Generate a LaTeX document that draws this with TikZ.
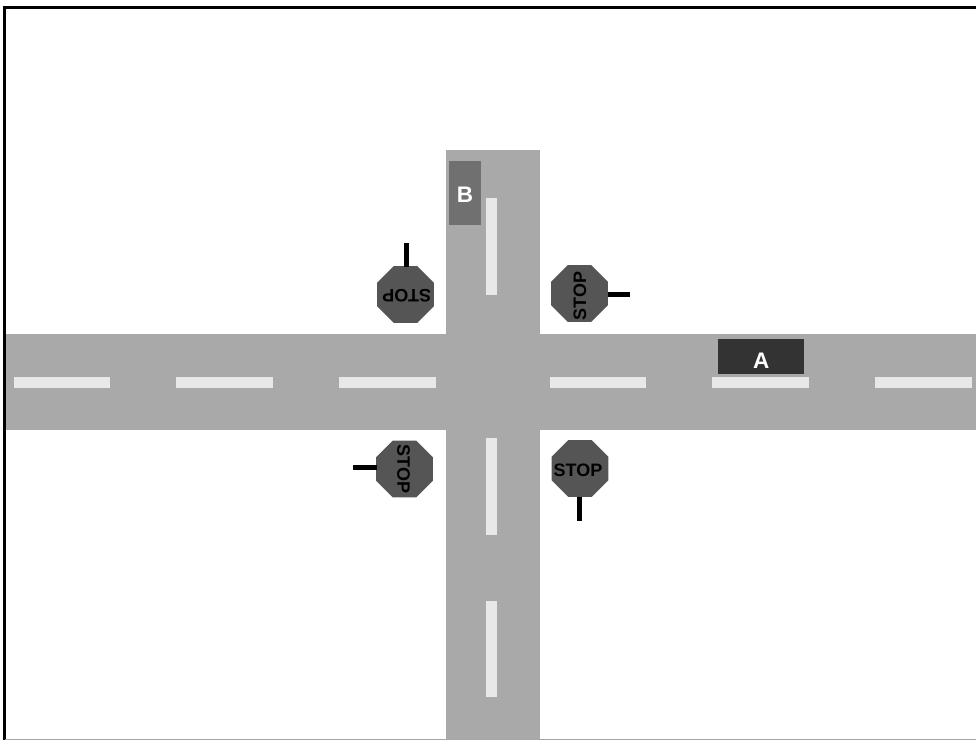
\documentclass[tikz,border=0pt]{standalone}
\usepackage{fontspec}
\setmainfont{Liberation Sans}
\usetikzlibrary{shapes.geometric}
\definecolor{roadc}{HTML}{A9A9A9}
\definecolor{dashc}{HTML}{E8E8E8}
\definecolor{signc}{HTML}{555555}
\definecolor{cara}{HTML}{333333}
\definecolor{carb}{HTML}{707070}
\tikzset{
 road/.style={fill=roadc,draw=none},
 lane/.style={fill=dashc,draw=none},
 octa/.style={regular polygon,regular polygon sides=8,minimum size=61.5pt,inner sep=0pt,fill=signc,draw=none},
 stoptext/.style={font=\fontsize{18}{18}\selectfont\bfseries,text=black,inner sep=0pt},
 post/.style={draw=black,line width=5pt},
 frameline/.style={draw=black,line width=3pt},
 cartext/.style={font=\fontsize{22.5}{22.5}\selectfont\bfseries,text=white,inner sep=0pt},
}
\begin{document}
\begin{tikzpicture}[x=1pt,y=-1pt]
\useasboundingbox (0,0) rectangle (976,740);
\fill[white] (0,0) rectangle (976,740);
% frame
\draw[frameline] (4.5,740) -- (4.5,7) -- (976,7);
\draw[draw=gray!70,line width=1pt] (5,739.5) -- (976,739.5);
% roads
\fill[road] (5.5,334) rectangle (976,430);
\fill[road] (446,150) rectangle (540,739);
% horizontal lane marks
\foreach \a/\b in {14/110,176/273,339/436,550/646,712/809,875/972}
  \fill[lane] (\a,377) rectangle (\b,388);
% vertical lane marks
\foreach \a/\b in {198/295,438/535,601/697}
  \fill[lane] (486,\a) rectangle (497,\b);
% cars
\fill[carb] (449,161) rectangle (481,225);
\node[cartext] (labelb) at (465,194.5) {B};
\fill[cara] (718,339) rectangle (804,374);
\node[cartext] (labela) at (761.3,360.5) {A};
% stop signs
\coordinate (tlend) at (406,243);
\coordinate (trend) at (630,294.5);
\coordinate (blend) at (353,467.5);
\coordinate (brend) at (579.3,521);
\node[octa] (tl) at (405.5,294.5) {};
\node[octa] (tr) at (579.5,293.5) {};
\node[octa] (bl) at (404.5,469) {};
\node[octa] (br) at (580,468.5) {};
\draw[post] (406,267) -- (tlend);
\draw[post] (607.5,294.5) -- (trend);
\draw[post] (376.5,467.5) -- (blend);
\draw[post] (579.3,496.5) -- (brend);
\node[stoptext,rotate=180] (tltext) at (406.7,296) {STOP};
\node[stoptext,rotate=90] (trtext) at (580,296) {STOP};
\node[stoptext,rotate=-90] (bltext) at (403.5,469) {STOP};
\node[stoptext] (brtext) at (578,470) {STOP};
\end{tikzpicture}
\end{document}
